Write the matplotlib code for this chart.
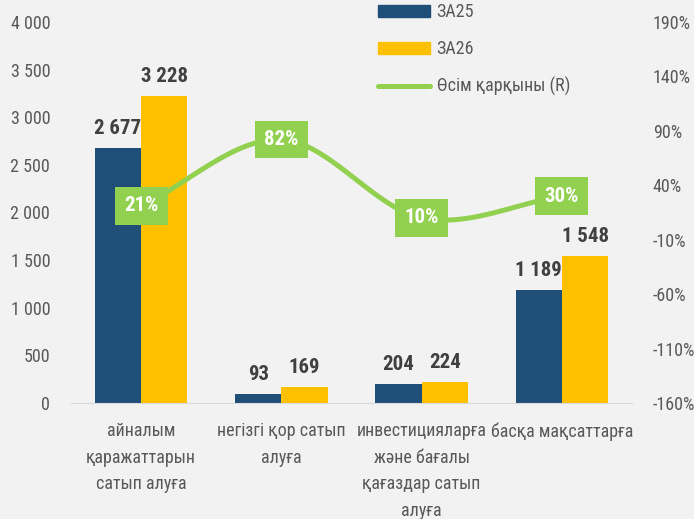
import numpy as np
import matplotlib.pyplot as plt
from matplotlib.patches import Patch
from matplotlib.lines import Line2D

plt.rcParams['font.family'] = ['Roboto Condensed', 'DejaVu Sans']

# data
categories = ['айналым\nқаражаттарын\nсатып алуға',
              'негізгі қор сатып\nалуға',
              'инвестицияларға\nжәне бағалы\nқағаздар сатып\nалуға',
              'басқа мақсаттарға']
za25 = [2677, 93, 204, 1189]
za26 = [3228, 169, 224, 1548]
growth = [21, 82, 10, 30]
left_ticks = [0, 500, 1000, 1500, 2000, 2500, 3000, 3500, 4000]
left_labels = ['0', '500', '1 000', '1 500', '2 000', '2 500', '3 000', '3 500', '4 000']
right_ticks = [-160, -110, -60, -10, 40, 90, 140, 190]

bg = '#f2f2f2'
blue = '#1f4e79'
yellow = '#ffc000'
green = '#92d050'
txt = '#595959'

fig = plt.figure(figsize=(6.94, 5.19), dpi=100, facecolor=bg)
ax = fig.add_axes([71/694, 1 - 403/519, 561/694, 381/519])
ax.set_facecolor(bg)

x = np.arange(len(categories))
w = 0.33
b1 = ax.bar(x - w/2, za25, w, color=blue, zorder=2)
b2 = ax.bar(x + w/2, za26, w, color=yellow, zorder=2)

def fmt(v):
    return f'{v:,}'.replace(',', ' ')

for bars, vals in ((b1, za25), (b2, za26)):
    for r, v in zip(bars, vals):
        ax.annotate(fmt(v), (r.get_x() + r.get_width()/2, v), xytext=(0, 7),
                    textcoords='offset points', ha='center', va='bottom',
                    fontsize=15, fontweight='bold', color='#404040')

ax.set_xlim(-0.5, len(categories) - 0.5)
ax.set_ylim(0, 4000)
ax.set_yticks(left_ticks)
ax.set_yticklabels(left_labels)
ax.set_xticks(x)
ax.set_xticklabels(categories, linespacing=1.6)
ax.tick_params(axis='y', length=0, pad=15, labelsize=13, labelcolor=txt)
ax.tick_params(axis='x', length=0, pad=14, labelsize=13, labelcolor=txt)
for s in ('top', 'right', 'left'):
    ax.spines[s].set_visible(False)
ax.spines['bottom'].set_color('#d9d9d9')

ax2 = ax.twinx()
ax2.set_ylim(-160, 190)
ax2.set_yticks(right_ticks)
ax2.set_yticklabels([f'{t}%' for t in right_ticks])
ax2.tick_params(axis='y', length=0, pad=15, labelsize=13, labelcolor=txt)
for s in ax2.spines.values():
    s.set_visible(False)

# smooth line (Catmull-Rom through the data points, like Excel's smoothed line)
px = list(x)
py = list(growth)
sx, sy = [], []
ext_x = [px[0] - (px[1] - px[0])] + px + [px[-1] + (px[-1] - px[-2])]
ext_y = [py[0] - (py[1] - py[0])] + py + [py[-1] + (py[-1] - py[-2])]
t = np.linspace(0, 1, 40)
for i in range(1, len(ext_x) - 2):
    for arr, out in ((ext_x, sx), (ext_y, sy)):
        p0, p1, p2, p3 = arr[i-1], arr[i], arr[i+1], arr[i+2]
        m1 = (p2 - p0) / 2
        m2 = (p3 - p1) / 2
        h00 = 2*t**3 - 3*t**2 + 1
        h10 = t**3 - 2*t**2 + t
        h01 = -2*t**3 + 3*t**2
        h11 = t**3 - t**2
        out.extend(h00*p1 + h10*m1 + h01*p2 + h11*m2)
ax2.plot(sx, sy, color=green, lw=3.6, solid_capstyle='round', zorder=3)

for xi, g in zip(x, growth):
    ax2.text(xi, g, f'{g}%', ha='center', va='center', fontsize=15, fontweight='bold',
             color='white', zorder=4,
             bbox=dict(boxstyle='square,pad=0.45', fc=green, ec='none'))

handles = [Patch(color=blue), Patch(color=yellow),
           Line2D([0], [0], color=green, lw=3.6, solid_capstyle='round')]
leg = fig.legend(handles, ['ЗА25', 'ЗА26', 'Өсім қарқыны (R)'], loc='upper left',
                 bbox_to_anchor=(378/694, 1 - 3/519), frameon=False, fontsize=13,
                 borderaxespad=0, borderpad=0,
                 handlelength=2.9, handleheight=0.65, labelspacing=1.05, handletextpad=0.35)
for tx in leg.get_texts():
    tx.set_color(txt)

fig.savefig('out.png', dpi=100, facecolor=bg)
